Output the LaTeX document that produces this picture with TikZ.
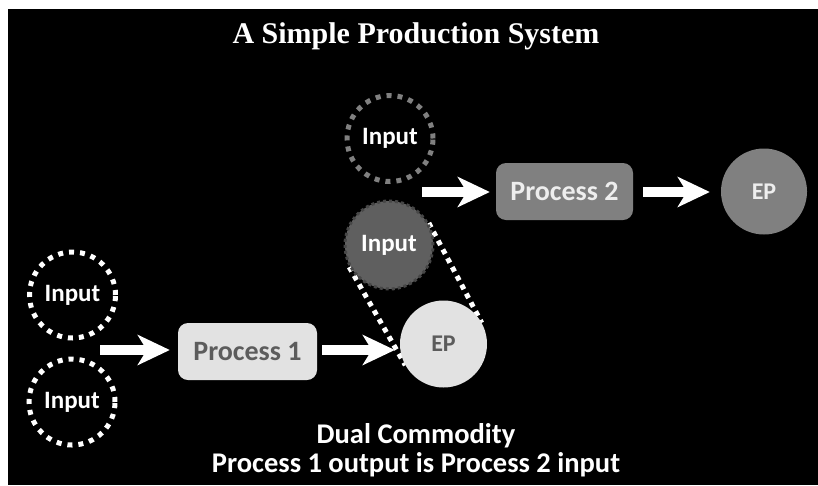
\documentclass[tikz,border=0pt]{standalone}
\usepackage{fontspec}
\setmainfont{Carlito}
\newfontfamily\titlefont{Liberation Serif}
\usetikzlibrary{arrows.meta,backgrounds}

\definecolor{boxlight}{HTML}{E2E2E2}
\definecolor{boxmid}{HTML}{808080}
\definecolor{boxdark}{HTML}{5F5F5F}
\definecolor{rimdark}{HTML}{474747}
\definecolor{textdark}{HTML}{5C5C5C}
\definecolor{textlight}{HTML}{EEEEEE}

\tikzset{
  inputring/.style={circle,draw=white,line width=5pt,dash pattern=on 5pt off 6pt,
    minimum size=86pt,inner sep=0pt,text=white,font=\fontsize{25}{27}\selectfont\bfseries},
  epcircle/.style={circle,minimum size=87pt,inner sep=0pt,font=\fontsize{24}{26}\selectfont\bfseries},
  procbox/.style={rounded corners=10pt,minimum width=139pt,minimum height=57pt,
    inner sep=0pt,font=\fontsize{28}{30}\selectfont\bfseries},
  flow/.style={white,line width=10pt,-{Stealth[length=32pt,width=30pt,inset=9pt]}},
  tangent/.style={white,line width=5pt,dash pattern=on 5pt off 5pt}
}

\begin{document}
\begin{tikzpicture}[x=1pt,y=-1pt]
  \useasboundingbox (0,0) rectangle (818,485);
  \begin{scope}[on background layer]
    \fill[white] (0,0) rectangle (818,485);
    \fill[black] (8,9) rectangle (818,485);
  \end{scope}

  % Circles
  \node[inputring] (inA) at (72.5,295) {Input};
  \node[inputring] (inB) at (72,402) {Input};
  \node[inputring,draw=boxmid] (inTop) at (390,138.5) {Input};
  \node[inputring,draw=rimdark,fill=boxdark,dash pattern=on 3pt off 3pt,line width=3pt,minimum size=88pt] (inMid) at (389,245) {Input};
  \node[epcircle,fill=boxlight,text=textdark] (epA) at (443.5,344) {EP};
  \node[epcircle,fill=boxmid,text=textlight,minimum size=86pt] (epB) at (764,191.5) {EP};

  % Boxes
  \node[procbox,fill=boxlight,text=textdark] (procA) at (247.5,351.5) {Process 1};
  \node[procbox,fill=boxmid,text=textlight,minimum width=137pt] (procB) at (564.5,191.5) {Process 2};

  % Labels
  \node[anchor=base,text=white,font=\titlefont\fontsize{30}{32}\selectfont\bfseries] (title) at (416,43) {A Simple Production System};
  \node[anchor=base,text=white,font=\fontsize{28.5}{30}\selectfont\bfseries] (dual) at (416,443) {Dual Commodity};
  \node[anchor=base,text=white,font=\fontsize{28.5}{30}\selectfont\bfseries] (note) at (416,472) {Process 1 output is Process 2 input};

  % Arrows
  \coordinate (startA) at (100,350);
  \coordinate (startB) at (422,192);
  \draw[flow] (startA) -- ([xshift=-8pt]startA -| procA.west);
  \draw[flow] ([xshift=5pt]startA -| procA.east) -- ([xshift=-5pt]startA -| epA.west);
  \draw[flow] (startB) -- ([xshift=-6pt]startB -| procB.west);
  \draw[flow] ([xshift=10pt]startB -| procB.east) -- ([xshift=-11pt]startB -| epB.west);

  % Link between the two commodity circles
  \begin{scope}[on background layer]
    \draw[tangent] (inMid.29) -- (epA.29);
    \draw[tangent] (inMid.209) -- (epA.209);
  \end{scope}
\end{tikzpicture}
\end{document}
